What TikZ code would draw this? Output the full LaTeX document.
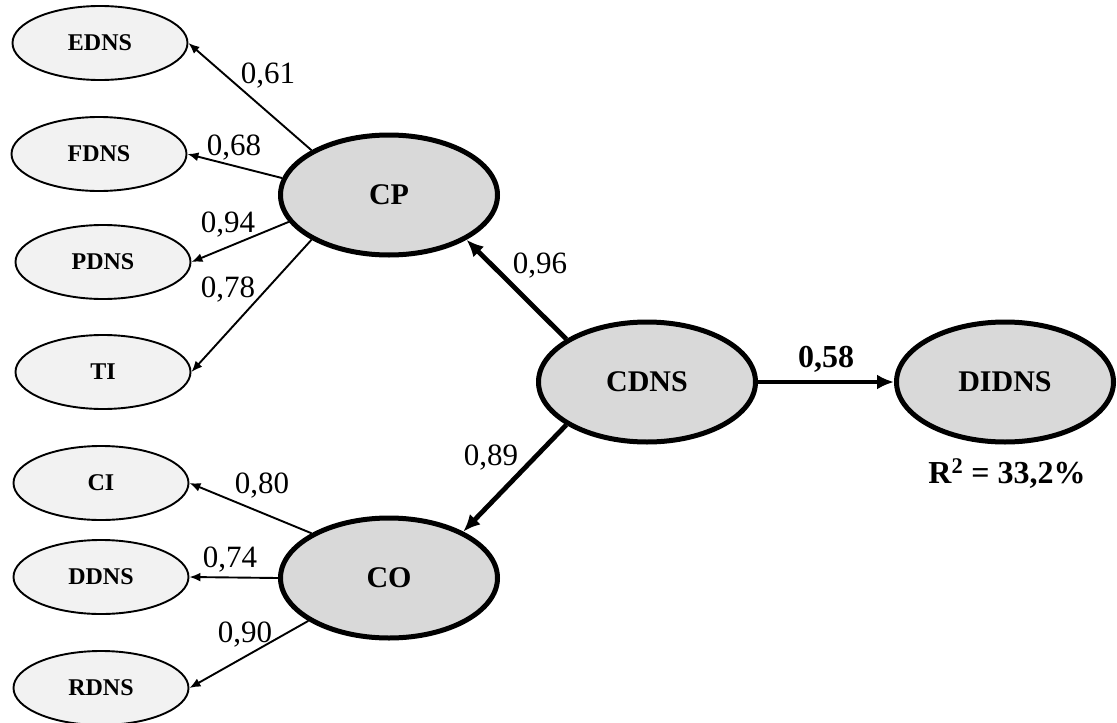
\documentclass[tikz,border=0pt]{standalone}
\usepackage{fontspec}
\setmainfont{Liberation Serif}
\usetikzlibrary{shapes.geometric,arrows.meta}
\definecolor{indfill}{HTML}{F2F2F2}
\definecolor{lvfill}{HTML}{D9D9D9}
\begin{document}
\begin{tikzpicture}[x=1pt,y=-1pt,
  indicator/.style={ellipse,draw=black,line width=1.9pt,fill=indfill,
    minimum width=175pt,minimum height=74pt,inner sep=0pt,
    font=\fontsize{24}{24}\selectfont\bfseries},
  construct/.style={ellipse,draw=black,line width=5pt,fill=lvfill,
    minimum width=217pt,minimum height=120pt,inner sep=0pt,
    font=\fontsize{30}{30}\selectfont\bfseries},
  loading/.style={draw=black,line width=1.9pt,-{Latex[length=11pt,width=9pt]}},
  structural/.style={draw=black,line width=4.8pt,-{Latex[length=17pt,width=15pt]}},
  coef/.style={anchor=base,inner sep=0pt,font=\fontsize{31}{31}\selectfont},
  coefbold/.style={anchor=base,inner sep=0pt,font=\fontsize{32}{32}\selectfont\bfseries},
]
\useasboundingbox (0,0) rectangle (1117,723);

% indicator ellipses
\node[indicator] (EDNS) at (100,43)  {EDNS};
\node[indicator] (FDNS) at (99,154)  {FDNS};
\node[indicator] (PDNS) at (103,262) {PDNS};
\node[indicator] (TI)   at (103,372) {TI};
\node[indicator] (CI)   at (101,483) {CI};
\node[indicator] (DDNS) at (101,577) {DDNS};
\node[indicator] (RDNS) at (101,688) {RDNS};

% latent constructs
\node[construct] (CP)    at (389,195)  {CP};
\node[construct] (CO)    at (389,578)  {CO};
\node[construct] (CDNS)  at (647,382)  {CDNS};
\node[construct] (DIDNS) at (1005,382) {DIDNS};

% outer loadings of CP
\draw[loading] (CP.150) -- (EDNS.east);
\draw[loading] (CP.171) -- (FDNS.east);
\draw[loading] (CP.195) -- (PDNS.east);
\draw[loading] (CP.210) -- (TI.east);

% outer loadings of CO
\draw[loading] (CO.150) -- (CI.east);
\draw[loading] (CO.west) -- (DDNS.east);
\draw[loading] (CO.208) -- (RDNS.east);

% structural paths
\draw[structural] (CDNS.152) -- (CP.-30);
\draw[structural] (CDNS.208) -- (CO.32);
\draw[structural] (CDNS.east) -- (DIDNS.west);

% coefficients
\node[coef] (l61) at (268,83)  {0,61};
\node[coef] (l68) at (234,155) {0,68};
\node[coef] (l94) at (228,232) {0,94};
\node[coef] (l78) at (228,297) {0,78};
\node[coef] (l80) at (262,493) {0,80};
\node[coef] (l74) at (230,567) {0,74};
\node[coef] (l90) at (245,642) {0,90};
\node[coef] (l96) at (540,273) {0,96};
\node[coef] (l89) at (491,465) {0,89};
\node[coefbold] (l58) at (826,367) {0,58};
\node[coefbold] (r2) at (1007,483) {R\textsuperscript{2} = 33,2\%};
\end{tikzpicture}
\end{document}
